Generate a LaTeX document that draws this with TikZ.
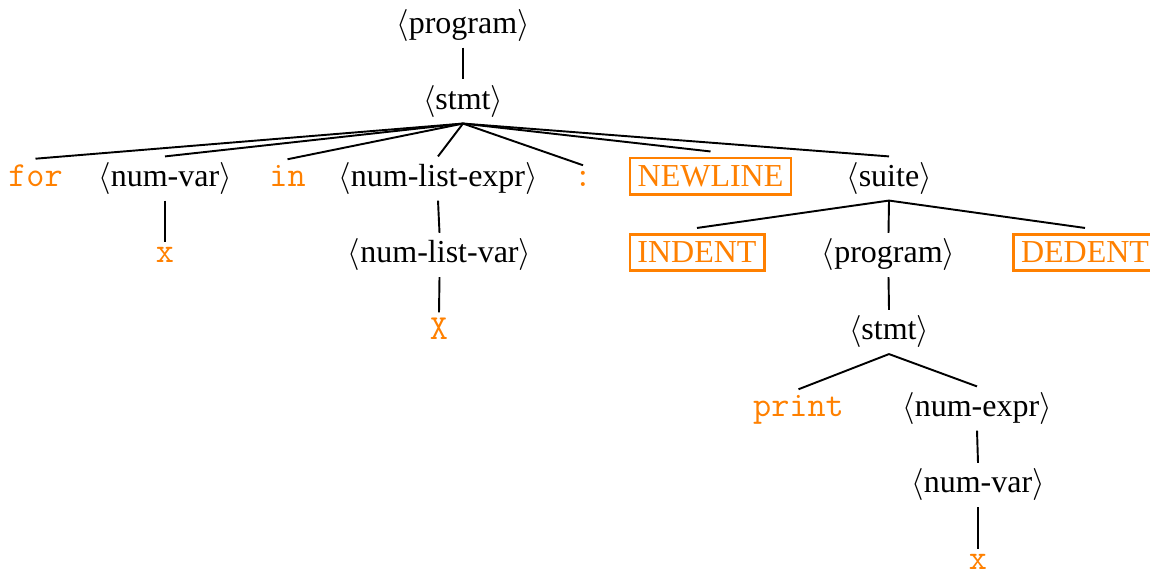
\documentclass[tikz,border=0pt]{standalone}
\usepackage{fontspec}
\setmainfont{Liberation Serif}
\definecolor{tokcol}{RGB}{255,128,0}
\newcommand\ntm[1]{$\langle$#1$\rangle$}
\begin{document}
\begin{tikzpicture}[
  x=0.3125pt, y=-0.3125pt,
  every node/.style={inner sep=1.7pt, anchor=base, font=\fontsize{10}{12}\selectfont},
  tok/.style={text=tokcol, font=\fontsize{11}{13}\selectfont\ttfamily},
  boxed/.style={draw=tokcol, text=tokcol, line width=0.8pt, inner sep=2.4pt, outer sep=2pt},
  branch/.style={line width=0.6pt}
]
\useasboundingbox (0,0) rectangle (1150,573);

% level 0 and 1
\node (prog0) at (463,33.5) {\ntm{program}};
\node (stmt0) at (463,109.5) {\ntm{stmt}};

% level 2
\node[tok] (for)   at (35.5,186.5) {for};
\node      (nv0)   at (165,186.5)  {\ntm{num-var}};
\node[tok] (in)    at (287.5,186.5) {in};
\node      (nle)   at (438,186.5)  {\ntm{num-list-expr}};
\node[tok] (colon) at (583,186.5)  {:};
\node[boxed] (newline) at (710.5,186.5) {NEWLINE};
\node      (suite) at (889,186.5)  {\ntm{suite}};

% level 3
\node[tok] (x0)    at (165,263)    {x};
\node      (nlv)   at (439.5,263)  {\ntm{num-list-var}};
\node[boxed] (indent) at (697,263) {INDENT};
\node      (prog1) at (888.5,263)  {\ntm{program}};
\node[boxed] (dedent) at (1085,263) {DEDENT};

% level 4
\node[tok] (X)     at (439,340)    {X};
\node      (stmt1) at (889,340)    {\ntm{stmt}};

% level 5 and below
\node[tok] (print) at (798.5,416.5) {print};
\node      (nexpr) at (977,416.5)  {\ntm{num-expr}};
\node      (nv1)   at (978,493)    {\ntm{num-var}};
\node[tok] (x1)    at (978,570)    {x};

% branches
\draw[branch] (prog0.south) -- (stmt0.north);
\foreach \c in {for,nv0,in,nle,colon,newline,suite}
  \draw[branch] (stmt0.south) -- (\c.north);
\draw[branch] (nv0.south) -- (x0.north);
\draw[branch] (nle.south) -- (nlv.north);
\draw[branch] (nlv.south) -- (X.north);
\foreach \c in {indent,prog1,dedent}
  \draw[branch] (suite.south) -- (\c.north);
\draw[branch] (prog1.south) -- (stmt1.north);
\draw[branch] (stmt1.south) -- (print.north);
\draw[branch] (stmt1.south) -- (nexpr.north);
\draw[branch] (nexpr.south) -- (nv1.north);
\draw[branch] (nv1.south) -- (x1.north);
\end{tikzpicture}
\end{document}
